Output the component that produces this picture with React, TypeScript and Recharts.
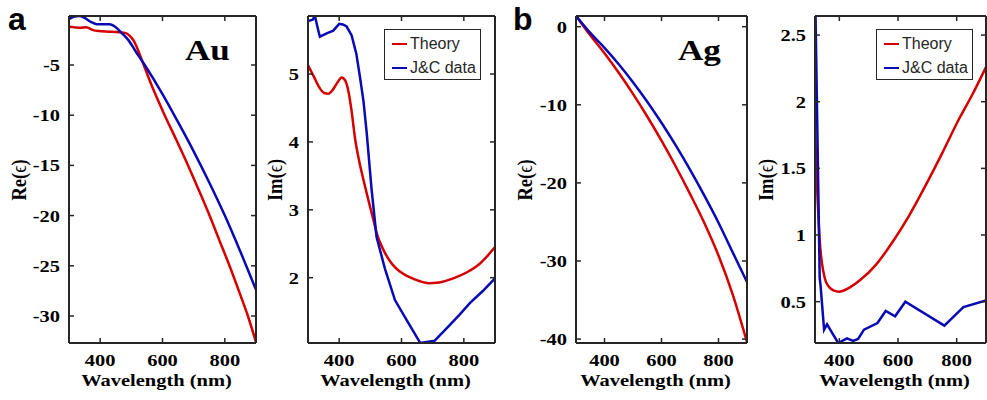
import { LineChart, Line, XAxis, YAxis, Legend, Label } from "recharts";

const SERIF = '"Liberation Serif", "Times New Roman", serif';
const SANS = '"Liberation Sans", Arial, sans-serif';
const RED = "#d40000";
const BLUE = "#0a0ab4";
const AXIS = "#262626";
const SX = 1.17; // figure text looks stretched sideways

// Au, real part
const auReTheoryNm = [300, 320, 336, 355, 375, 395, 430, 463, 480, 495, 508, 520, 535, 570, 607, 645, 682, 717, 751, 783, 815, 845, 874, 900];
const auReTheory = [-1.2, -1.26, -1.29, -1.24, -1.5, -1.62, -1.68, -1.75, -1.8, -2.1, -2.6, -3.4, -4.6, -7.4, -10, -12.5, -15, -17.5, -20, -22.5, -25, -27.5, -30, -32.6];
const auReJcNm = [300, 315, 333, 350, 370, 390, 410, 430, 450, 470, 490, 515, 543, 600, 650, 700, 750, 800, 850, 900];
const auReJc = [-0.45, -0.2, -0.12, -0.3, -0.7, -0.95, -0.95, -0.95, -1.25, -1.85, -2.5, -3.7, -5.0, -7.9, -10.7, -13.6, -16.7, -20.0, -23.6, -27.4];

// Au, imaginary part
const auImTheoryNm = [300, 320, 338, 352, 365, 380, 395, 408, 420, 430, 440, 451, 465, 478, 495, 510, 520, 542, 570, 595, 640, 686, 720, 766, 810, 852, 900];
const auImTheory = [5.13, 4.95, 4.79, 4.72, 4.71, 4.77, 4.88, 4.95, 4.9, 4.74, 4.45, 4.05, 3.7, 3.44, 3.12, 2.85, 2.66, 2.41, 2.2, 2.09, 1.98, 1.92, 1.93, 1.99, 2.08, 2.21, 2.45];
const auImJcNm = [300, 315, 322, 330, 338, 360, 381, 400, 412, 424, 440, 455, 467, 478, 488, 504, 520, 547, 579, 620, 660, 706, 750, 785, 820, 860, 900];
const auImJc = [5.78, 5.8, 5.86, 5.7, 5.55, 5.6, 5.64, 5.74, 5.73, 5.7, 5.57, 5.3, 4.95, 4.6, 4.15, 3.3, 2.6, 2.13, 1.67, 1.35, 1.04, 1.07, 1.28, 1.45, 1.63, 1.8, 1.99];

// Ag, real part
const agReTheoryNm = [300, 350, 400, 450, 500, 550, 600, 650, 700, 750, 800, 850, 900];
const agReTheory = [1.4, -1.1, -3.4, -5.9, -8.6, -11.5, -14.6, -17.9, -21.4, -25.1, -29.3, -34.3, -40.4];
const agReJcNm = [300, 350, 400, 450, 500, 550, 600, 650, 700, 750, 800, 850, 900];
const agReJc = [1.4, -0.8, -2.7, -4.8, -7.1, -9.6, -12.3, -15.2, -18.3, -21.6, -25.1, -28.9, -32.7];

// Ag, imaginary part
const agImTheoryNm = [317, 321, 325, 330, 334, 340, 351, 365, 380, 400, 430, 470, 526, 582, 639, 696, 752, 808, 855, 900];
const agImTheory = [1.8, 1.55, 1.31, 1.08, 0.93, 0.8, 0.67, 0.61, 0.585, 0.575, 0.6, 0.66, 0.78, 0.95, 1.15, 1.38, 1.62, 1.87, 2.06, 2.26];
const agImJcNm = [317, 333, 336, 348, 358, 396, 426, 447, 464, 484, 530, 558, 590, 625, 758, 823, 900];
const agImJc = [2.9, 0.68, 0.62, 0.29, 0.33, 0.19, 0.225, 0.205, 0.22, 0.29, 0.34, 0.43, 0.39, 0.5, 0.32, 0.46, 0.51];

const wavelengthTicks = [400, 600, 800];
const auReTicks = [-30, -25, -20, -15, -10, -5];
const auImTicks = [2, 3, 4, 5];
const agReTicks = [-40, -30, -20, -10, 0];
const agImTicks = [0.5, 1, 1.5, 2, 2.5];
const legendOrder = ["Theory", "J&C data"];

const zip = (nm: number[], v: number[]) => nm.map((x, i) => ({ nm: x, v: v[i] }));

const tickFont = { fontFamily: SERIF, fontWeight: 700, fontSize: 17.5, fill: "#000" };

function XTick(props: any) {
  const { x, y, payload } = props;
  return (
    <text transform={`translate(${x},${y + 23}) scale(${SX},1)`} textAnchor="middle" style={tickFont}>
      {payload.value}
    </text>
  );
}

function YTick(props: any) {
  const { x, y, payload } = props;
  return (
    <text transform={`translate(${x - 9},${y + 6}) scale(${SX},1)`} textAnchor="end" style={tickFont}>
      {payload.value}
    </text>
  );
}

const NoTick = () => null;

function LegendBox(props: any) {
  const items = [...(props.payload || [])].sort(
    (a: any, b: any) => legendOrder.indexOf(a.value) - legendOrder.indexOf(b.value)
  );
  return (
    <div
      style={{
        position: "relative",
        width: 97,
        height: 51,
        boxSizing: "border-box",
        border: `1.5px solid ${AXIS}`,
        background: "#fff",
        fontFamily: SANS,
        fontSize: 16,
        color: "#262626",
      }}
    >
      {items.map((it: any, i: number) => (
        <div key={it.value} style={{ position: "absolute", left: 0, top: 4 + i * 24, height: 20, width: "100%" }}>
          <div style={{ position: "absolute", left: 6.5, top: 8.5, width: 15, height: 2.5, background: it.color }} />
          <div style={{ position: "absolute", left: 25, top: 0, lineHeight: "20px", whiteSpace: "nowrap" }}>{it.value}</div>
        </div>
      ))}
    </div>
  );
}

interface PanelProps {
  left: number;
  plotLeft: number;
  plotRight: number;
  xDomain: [number, number];
  yDomain: [number, number];
  yTicks: number[];
  yLabel: string;
  yLabelX: number;
  theory: { nm: number; v: number }[];
  jc: { nm: number; v: number }[];
  jcCurve: "monotone" | "linear";
  legend?: boolean;
}

function Panel({ left, plotLeft, plotRight, xDomain, yDomain, yTicks, yLabel, yLabelX, theory, jc, jcCurve, legend }: PanelProps) {
  const width = plotRight - left + 2;
  const axisLine = { stroke: AXIS, strokeWidth: 2 };
  const tickLine = { stroke: AXIS, strokeWidth: 1.5 };
  const xMid = (plotLeft + plotRight) / 2 - 6 - left;
  const yCx = yLabelX - left;
  return (
    <div style={{ position: "absolute", left, top: 0 }}>
      <LineChart width={width} height={400} margin={{ top: 15, right: 1, bottom: 0, left: 0 }}>
        <XAxis
          xAxisId="b"
          dataKey="nm"
          type="number"
          domain={xDomain}
          allowDataOverflow
          ticks={wavelengthTicks}
          interval={0}
          orientation="bottom"
          height={57}
          tickSize={-5}
          tickMargin={5}
          axisLine={axisLine}
          tickLine={tickLine}
          tick={<XTick />}
        >
          <Label
            content={() => (
              <text transform={`translate(${xMid},386) scale(${SX},1)`} textAnchor="middle" style={tickFont}>
                Wavelength (nm)
              </text>
            )}
          />
        </XAxis>
        <XAxis
          xAxisId="t"
          dataKey="nm"
          type="number"
          domain={xDomain}
          allowDataOverflow
          ticks={wavelengthTicks}
          interval={0}
          orientation="top"
          height={1}
          tickSize={-5}
          tickMargin={0}
          axisLine={axisLine}
          tickLine={tickLine}
          tick={NoTick}
        />
        <YAxis
          yAxisId="l"
          type="number"
          domain={yDomain}
          allowDataOverflow
          ticks={yTicks}
          interval={0}
          width={plotLeft - left}
          tickSize={-5}
          tickMargin={5}
          axisLine={axisLine}
          tickLine={tickLine}
          tick={<YTick />}
        >
          <Label
            content={() => (
              <text
                transform={`translate(${yCx},180) scale(${SX},1) rotate(-90)`}
                textAnchor="middle"
                dy="0.35em"
                style={{ ...tickFont, fontSize: 18.5 }}
              >
                {yLabel}(
                <tspan fontWeight={400} fontSize={18}>
                  ϵ
                </tspan>
                )
              </text>
            )}
          />
        </YAxis>
        <YAxis
          yAxisId="r"
          type="number"
          orientation="right"
          domain={yDomain}
          allowDataOverflow
          ticks={yTicks}
          interval={0}
          width={1}
          tickSize={-5}
          tickMargin={0}
          axisLine={axisLine}
          tickLine={tickLine}
          tick={NoTick}
        />
        <Line
          xAxisId="b"
          yAxisId="l"
          data={theory}
          dataKey="v"
          name="Theory"
          type="monotone"
          stroke={RED}
          strokeWidth={2.5}
          dot={false}
          activeDot={false}
          isAnimationActive={false}
        />
        <Line
          xAxisId="b"
          yAxisId="l"
          data={jc}
          dataKey="v"
          name="J&C data"
          type={jcCurve}
          stroke={BLUE}
          strokeWidth={2.5}
          dot={false}
          activeDot={false}
          isAnimationActive={false}
        />
        {legend && (
          <Legend
            layout="vertical"
            align="center"
            verticalAlign="middle"
            content={<LegendBox />}
            wrapperStyle={{ left: 126, top: 29, width: 97, height: 51 }}
          />
        )}
      </LineChart>
    </div>
  );
}

export default function App() {
  const big = { fontFamily: SERIF, fontWeight: 700, fontSize: 30, fill: "#000" };
  const letter = { fontFamily: SANS, fontWeight: 700, fontSize: 32, fill: "#000" };
  return (
    <div style={{ position: "absolute", left: 0, top: 0, width: 987, height: 400, overflow: "hidden", background: "#fff" }}>
      <Panel
        left={0}
        plotLeft={69}
        plotRight={256}
        xDomain={[300, 900]}
        yDomain={[-32.69, -0.12]}
        yTicks={auReTicks}
        yLabel="Re"
        yLabelX={18}
        theory={zip(auReTheoryNm, auReTheory)}
        jc={zip(auReJcNm, auReJc)}
        jcCurve="monotone"
      />
      <Panel
        left={258}
        plotLeft={308}
        plotRight={495}
        xDomain={[300, 900]}
        yDomain={[1.038, 5.855]}
        yTicks={auImTicks}
        yLabel="Im"
        yLabelX={274}
        theory={zip(auImTheoryNm, auImTheory)}
        jc={zip(auImJcNm, auImJc)}
        jcCurve="linear"
        legend
      />
      <Panel
        left={500}
        plotLeft={576}
        plotRight={747}
        xDomain={[300, 900]}
        yDomain={[-40.5, 1.37]}
        yTicks={agReTicks}
        yLabel="Re"
        yLabelX={524}
        theory={zip(agReTheoryNm, agReTheory)}
        jc={zip(agReJcNm, agReJc)}
        jcCurve="monotone"
      />
      <Panel
        left={750}
        plotLeft={815}
        plotRight={986}
        xDomain={[317, 900]}
        yDomain={[0.19, 2.643]}
        yTicks={agImTicks}
        yLabel="Im"
        yLabelX={765}
        theory={zip(agImTheoryNm, agImTheory)}
        jc={zip(agImJcNm, agImJc)}
        jcCurve="linear"
        legend
      />
      <svg width={987} height={400} style={{ position: "absolute", left: 0, top: 0, pointerEvents: "none" }}>
        <text x={8} y={30} style={letter}>a</text>
        <text x={513} y={30} style={letter}>b</text>
        <text transform={`translate(185,60) scale(${SX},1)`} style={big}>Au</text>
        <text transform={`translate(678,60) scale(${SX},1)`} style={big}>Ag</text>
      </svg>
    </div>
  );
}
